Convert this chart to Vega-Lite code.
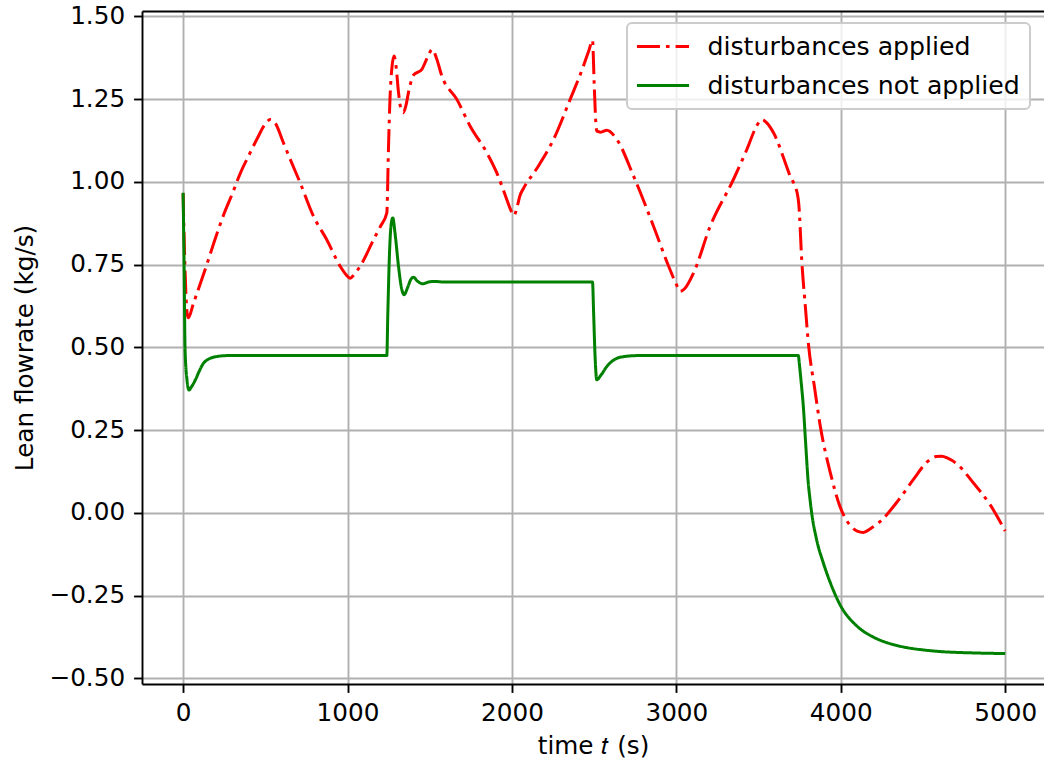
{
  "$schema": "https://vega.github.io/schema/vega-lite/v6.json",
  "width": 902,
  "height": 673,
  "autosize": {"type": "none"},
  "padding": {"left": 142, "top": 11, "right": 0, "bottom": 76},
  "background": "white",
  "config": {
    "view": {"stroke": null},
    "font": "DejaVu Sans",
    "axis": {
      "domainColor": "black", "domainWidth": 1.9,
      "tickColor": "black", "tickWidth": 1.9, "tickSize": 8.4,
      "labelFont": "DejaVu Sans", "labelFontSize": 24.7, "labelColor": "black",
      "titleFont": "DejaVu Sans", "titleFontSize": 24.7, "titleFontWeight": "normal", "titleColor": "black",
      "gridColor": "#b0b0b0", "gridWidth": 1.9, "gridOpacity": 1,
      "labelPadding": 9, "labelFlush": false, "labelOverlap": false
    },
    "legend": {
      "orient": "none", "legendX": 485, "legendY": 12,
      "symbolType": "M-2.17,0H2.17", "symbolSize": 576, "symbolStrokeWidth": 3, "symbolOffset": 12.5,
      "labelFont": "DejaVu Sans", "labelFontSize": 25.2, "labelColor": "black", "labelOffset": 31,
      "padding": 10, "rowPadding": 12,
      "strokeColor": "#cccccc", "fillColor": "rgba(255,255,255,0.8)", "cornerRadius": 5, "strokeWidth": 2,
      "labelLimit": 1000
    }
  },
  "data": {"values": [
    {"s": "disturbances applied", "t": 0, "v": 0.965},
    {"s": "disturbances applied", "t": 12, "v": 0.73},
    {"s": "disturbances applied", "t": 24, "v": 0.605},
    {"s": "disturbances applied", "t": 32, "v": 0.589},
    {"s": "disturbances applied", "t": 63, "v": 0.633},
    {"s": "disturbances applied", "t": 144, "v": 0.75},
    {"s": "disturbances applied", "t": 200, "v": 0.835},
    {"s": "disturbances applied", "t": 250, "v": 0.905},
    {"s": "disturbances applied", "t": 300, "v": 0.965},
    {"s": "disturbances applied", "t": 347, "v": 1.025},
    {"s": "disturbances applied", "t": 400, "v": 1.08},
    {"s": "disturbances applied", "t": 450, "v": 1.13},
    {"s": "disturbances applied", "t": 500, "v": 1.175},
    {"s": "disturbances applied", "t": 530, "v": 1.188},
    {"s": "disturbances applied", "t": 560, "v": 1.178},
    {"s": "disturbances applied", "t": 610, "v": 1.118},
    {"s": "disturbances applied", "t": 660, "v": 1.058},
    {"s": "disturbances applied", "t": 712, "v": 0.997},
    {"s": "disturbances applied", "t": 793, "v": 0.896},
    {"s": "disturbances applied", "t": 874, "v": 0.825},
    {"s": "disturbances applied", "t": 955, "v": 0.745},
    {"s": "disturbances applied", "t": 990, "v": 0.72},
    {"s": "disturbances applied", "t": 1016, "v": 0.709},
    {"s": "disturbances applied", "t": 1040, "v": 0.72},
    {"s": "disturbances applied", "t": 1077, "v": 0.745},
    {"s": "disturbances applied", "t": 1158, "v": 0.825},
    {"s": "disturbances applied", "t": 1200, "v": 0.865},
    {"s": "disturbances applied", "t": 1239, "v": 0.906},
    {"s": "disturbances applied", "t": 1249, "v": 1.1},
    {"s": "disturbances applied", "t": 1259, "v": 1.26},
    {"s": "disturbances applied", "t": 1270, "v": 1.345},
    {"s": "disturbances applied", "t": 1283, "v": 1.38},
    {"s": "disturbances applied", "t": 1295, "v": 1.35},
    {"s": "disturbances applied", "t": 1310, "v": 1.27},
    {"s": "disturbances applied", "t": 1325, "v": 1.22},
    {"s": "disturbances applied", "t": 1340, "v": 1.209},
    {"s": "disturbances applied", "t": 1355, "v": 1.23},
    {"s": "disturbances applied", "t": 1375, "v": 1.28},
    {"s": "disturbances applied", "t": 1401, "v": 1.322},
    {"s": "disturbances applied", "t": 1452, "v": 1.34},
    {"s": "disturbances applied", "t": 1490, "v": 1.38},
    {"s": "disturbances applied", "t": 1515, "v": 1.4},
    {"s": "disturbances applied", "t": 1540, "v": 1.375},
    {"s": "disturbances applied", "t": 1574, "v": 1.319},
    {"s": "disturbances applied", "t": 1665, "v": 1.249},
    {"s": "disturbances applied", "t": 1746, "v": 1.168},
    {"s": "disturbances applied", "t": 1847, "v": 1.088},
    {"s": "disturbances applied", "t": 1908, "v": 1.027},
    {"s": "disturbances applied", "t": 1969, "v": 0.946},
    {"s": "disturbances applied", "t": 1995, "v": 0.912},
    {"s": "disturbances applied", "t": 2013, "v": 0.898},
    {"s": "disturbances applied", "t": 2030, "v": 0.922},
    {"s": "disturbances applied", "t": 2050, "v": 0.96},
    {"s": "disturbances applied", "t": 2070, "v": 0.98},
    {"s": "disturbances applied", "t": 2151, "v": 1.04},
    {"s": "disturbances applied", "t": 2253, "v": 1.128},
    {"s": "disturbances applied", "t": 2354, "v": 1.249},
    {"s": "disturbances applied", "t": 2435, "v": 1.35},
    {"s": "disturbances applied", "t": 2470, "v": 1.4},
    {"s": "disturbances applied", "t": 2490, "v": 1.428},
    {"s": "disturbances applied", "t": 2500, "v": 1.3},
    {"s": "disturbances applied", "t": 2510, "v": 1.18},
    {"s": "disturbances applied", "t": 2516, "v": 1.153},
    {"s": "disturbances applied", "t": 2540, "v": 1.15},
    {"s": "disturbances applied", "t": 2577, "v": 1.156},
    {"s": "disturbances applied", "t": 2638, "v": 1.128},
    {"s": "disturbances applied", "t": 2740, "v": 1.017},
    {"s": "disturbances applied", "t": 2861, "v": 0.866},
    {"s": "disturbances applied", "t": 2953, "v": 0.745},
    {"s": "disturbances applied", "t": 3000, "v": 0.69},
    {"s": "disturbances applied", "t": 3023, "v": 0.669},
    {"s": "disturbances applied", "t": 3050, "v": 0.677},
    {"s": "disturbances applied", "t": 3104, "v": 0.724},
    {"s": "disturbances applied", "t": 3206, "v": 0.866},
    {"s": "disturbances applied", "t": 3347, "v": 1.007},
    {"s": "disturbances applied", "t": 3429, "v": 1.098},
    {"s": "disturbances applied", "t": 3490, "v": 1.17},
    {"s": "disturbances applied", "t": 3520, "v": 1.188},
    {"s": "disturbances applied", "t": 3550, "v": 1.178},
    {"s": "disturbances applied", "t": 3591, "v": 1.148},
    {"s": "disturbances applied", "t": 3692, "v": 1.017},
    {"s": "disturbances applied", "t": 3737, "v": 0.961},
    {"s": "disturbances applied", "t": 3745, "v": 0.93},
    {"s": "disturbances applied", "t": 3763, "v": 0.76},
    {"s": "disturbances applied", "t": 3785, "v": 0.62},
    {"s": "disturbances applied", "t": 3804, "v": 0.507},
    {"s": "disturbances applied", "t": 3840, "v": 0.38},
    {"s": "disturbances applied", "t": 3875, "v": 0.263},
    {"s": "disturbances applied", "t": 3935, "v": 0.124},
    {"s": "disturbances applied", "t": 3996, "v": 0.018},
    {"s": "disturbances applied", "t": 4057, "v": -0.038},
    {"s": "disturbances applied", "t": 4100, "v": -0.055},
    {"s": "disturbances applied", "t": 4138, "v": -0.059},
    {"s": "disturbances applied", "t": 4180, "v": -0.048},
    {"s": "disturbances applied", "t": 4240, "v": -0.026},
    {"s": "disturbances applied", "t": 4341, "v": 0.032},
    {"s": "disturbances applied", "t": 4442, "v": 0.101},
    {"s": "disturbances applied", "t": 4523, "v": 0.153},
    {"s": "disturbances applied", "t": 4580, "v": 0.17},
    {"s": "disturbances applied", "t": 4615, "v": 0.171},
    {"s": "disturbances applied", "t": 4650, "v": 0.165},
    {"s": "disturbances applied", "t": 4706, "v": 0.148},
    {"s": "disturbances applied", "t": 4807, "v": 0.09},
    {"s": "disturbances applied", "t": 4909, "v": 0.024},
    {"s": "disturbances applied", "t": 5000, "v": -0.055},
    {"s": "disturbances not applied", "t": 0, "v": 0.967},
    {"s": "disturbances not applied", "t": 6, "v": 0.75},
    {"s": "disturbances not applied", "t": 12, "v": 0.492},
    {"s": "disturbances not applied", "t": 24, "v": 0.4},
    {"s": "disturbances not applied", "t": 36, "v": 0.371},
    {"s": "disturbances not applied", "t": 50, "v": 0.38},
    {"s": "disturbances not applied", "t": 73, "v": 0.4},
    {"s": "disturbances not applied", "t": 100, "v": 0.43},
    {"s": "disturbances not applied", "t": 124, "v": 0.452},
    {"s": "disturbances not applied", "t": 150, "v": 0.463},
    {"s": "disturbances not applied", "t": 184, "v": 0.47},
    {"s": "disturbances not applied", "t": 266, "v": 0.475},
    {"s": "disturbances not applied", "t": 1239, "v": 0.475},
    {"s": "disturbances not applied", "t": 1245, "v": 0.6},
    {"s": "disturbances not applied", "t": 1255, "v": 0.78},
    {"s": "disturbances not applied", "t": 1265, "v": 0.87},
    {"s": "disturbances not applied", "t": 1275, "v": 0.891},
    {"s": "disturbances not applied", "t": 1290, "v": 0.84},
    {"s": "disturbances not applied", "t": 1310, "v": 0.745},
    {"s": "disturbances not applied", "t": 1328, "v": 0.68},
    {"s": "disturbances not applied", "t": 1344, "v": 0.659},
    {"s": "disturbances not applied", "t": 1365, "v": 0.68},
    {"s": "disturbances not applied", "t": 1385, "v": 0.705},
    {"s": "disturbances not applied", "t": 1401, "v": 0.712},
    {"s": "disturbances not applied", "t": 1425, "v": 0.7},
    {"s": "disturbances not applied", "t": 1458, "v": 0.692},
    {"s": "disturbances not applied", "t": 1490, "v": 0.697},
    {"s": "disturbances not applied", "t": 1523, "v": 0.699},
    {"s": "disturbances not applied", "t": 1600, "v": 0.697},
    {"s": "disturbances not applied", "t": 2490, "v": 0.697},
    {"s": "disturbances not applied", "t": 2497, "v": 0.6},
    {"s": "disturbances not applied", "t": 2505, "v": 0.48},
    {"s": "disturbances not applied", "t": 2516, "v": 0.402},
    {"s": "disturbances not applied", "t": 2540, "v": 0.415},
    {"s": "disturbances not applied", "t": 2577, "v": 0.442},
    {"s": "disturbances not applied", "t": 2620, "v": 0.462},
    {"s": "disturbances not applied", "t": 2658, "v": 0.47},
    {"s": "disturbances not applied", "t": 2760, "v": 0.475},
    {"s": "disturbances not applied", "t": 3742, "v": 0.475},
    {"s": "disturbances not applied", "t": 3748, "v": 0.45},
    {"s": "disturbances not applied", "t": 3760, "v": 0.39},
    {"s": "disturbances not applied", "t": 3772, "v": 0.323},
    {"s": "disturbances not applied", "t": 3787, "v": 0.205},
    {"s": "disturbances not applied", "t": 3802, "v": 0.092},
    {"s": "disturbances not applied", "t": 3812, "v": 0.045},
    {"s": "disturbances not applied", "t": 3823, "v": 0.0},
    {"s": "disturbances not applied", "t": 3853, "v": -0.081},
    {"s": "disturbances not applied", "t": 3893, "v": -0.15},
    {"s": "disturbances not applied", "t": 3934, "v": -0.208},
    {"s": "disturbances not applied", "t": 3995, "v": -0.277},
    {"s": "disturbances not applied", "t": 4096, "v": -0.341},
    {"s": "disturbances not applied", "t": 4197, "v": -0.375},
    {"s": "disturbances not applied", "t": 4299, "v": -0.395},
    {"s": "disturbances not applied", "t": 4400, "v": -0.407},
    {"s": "disturbances not applied", "t": 4500, "v": -0.414},
    {"s": "disturbances not applied", "t": 4605, "v": -0.419},
    {"s": "disturbances not applied", "t": 4800, "v": -0.423},
    {"s": "disturbances not applied", "t": 5000, "v": -0.425}
  ]},
  "layer": [
    {
      "mark": {"type": "line", "strokeWidth": 3, "interpolate": "monotone", "strokeCap": "butt"},
      "encoding": {
        "x": {
          "field": "t", "type": "quantitative",
          "scale": {"domain": [-250, 5236], "nice": false, "zero": false},
          "axis": {"values": [0, 1000, 2000, 3000, 4000, 5000], "format": "d", "title": "time 𝑡 (s)", "titleY": 69, "titleBaseline": "alphabetic", "labelPadding": 8}
        },
        "y": {
          "field": "v", "type": "quantitative",
          "scale": {"domain": [-0.517, 1.516], "nice": false, "zero": false},
          "axis": {"values": [-0.5, -0.25, 0, 0.25, 0.5, 0.75, 1, 1.25, 1.5], "format": ".2f", "title": "Lean flowrate (kg/s)", "titleX": -110, "titleBaseline": "alphabetic"}
        },
        "color": {
          "field": "s", "type": "nominal",
          "scale": {"domain": ["disturbances applied", "disturbances not applied"], "range": ["#ff0000", "#008000"]},
          "legend": {"title": null}
        },
        "strokeDash": {
          "field": "s", "type": "nominal",
          "scale": {"domain": ["disturbances applied", "disturbances not applied"], "range": [[23, 6, 3.6, 6], [1, 0]]},
          "legend": {"title": null}
        }
      }
    },
    {
      "mark": {"type": "line", "opacity": 0},
      "encoding": {
        "x": {"field": "t", "type": "quantitative", "axis": {"orient": "top", "labels": false, "ticks": false, "grid": false, "title": null, "domain": true}},
        "y": {"field": "v", "type": "quantitative"},
        "detail": {"field": "s"}
      }
    }
  ],
  "resolve": {"axis": {"x": "independent"}}
}
